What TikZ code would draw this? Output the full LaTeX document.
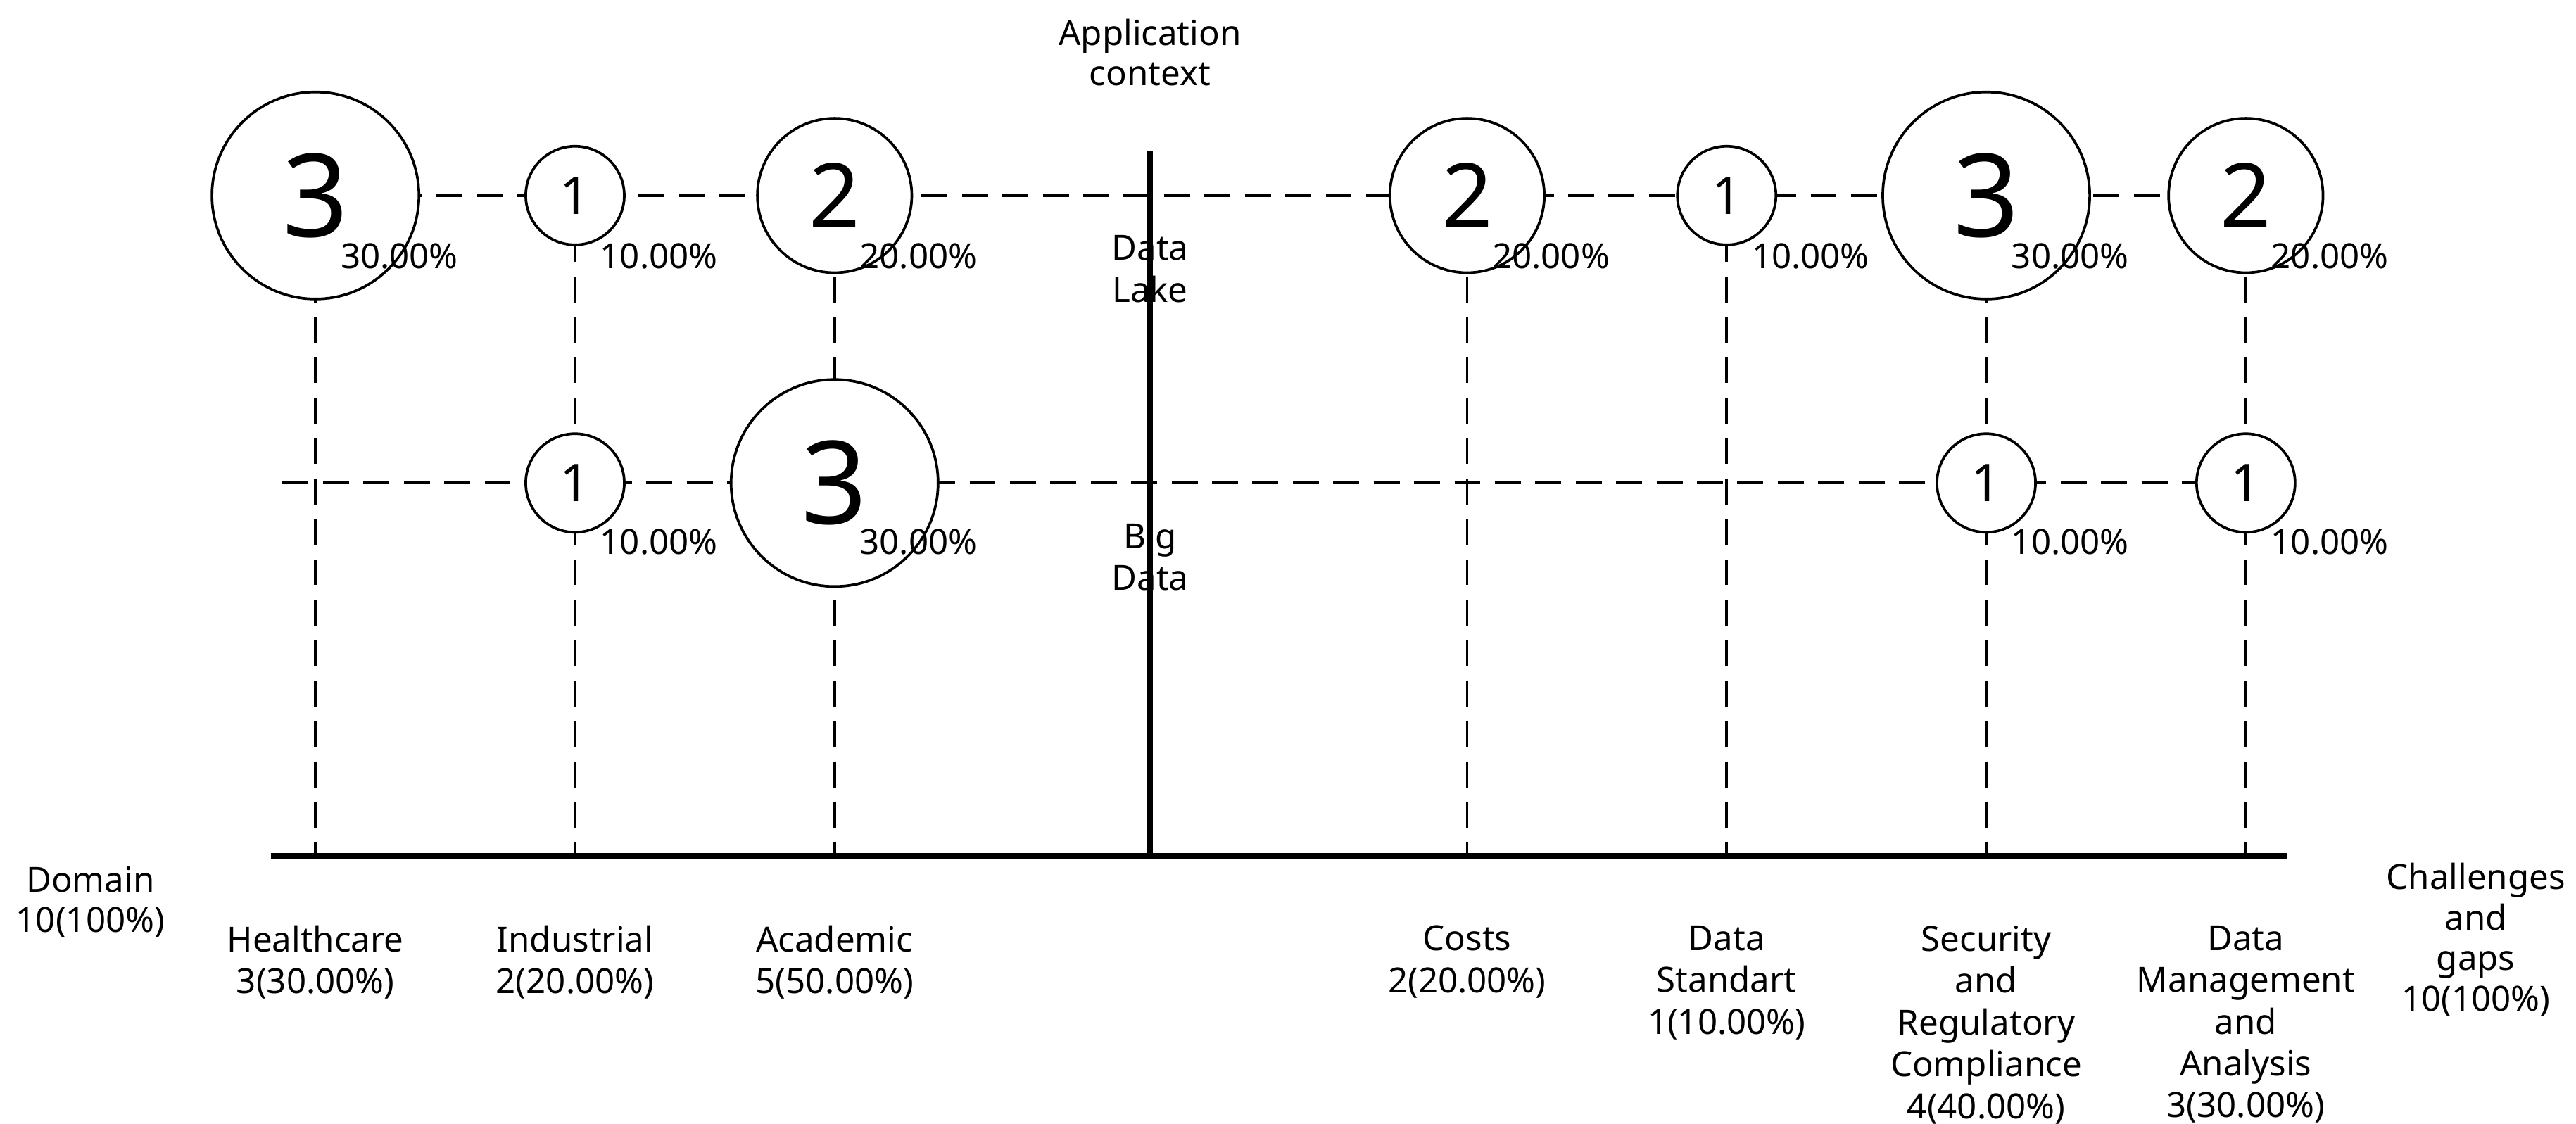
\documentclass[tikz,border=0pt]{standalone}
\usepackage{fontspec}
\setmainfont{Noto Sans}
\begin{document}
\begin{tikzpicture}[x=0.02cm,y=-0.02cm,
  dsh/.style={dashed,dash pattern=on 9pt off 5pt,line width=0.9pt},
  axis/.style={line width=2.2pt},
  bub/.style={circle,draw,fill=white,line width=0.9pt,inner sep=0pt,font=\bfseries},
  pct/.style={anchor=west,font=\bfseries\fontsize{12}{14}\selectfont,inner sep=0pt},
  lab/.style={align=center,anchor=north,font=\fontsize{12}{14.5}\selectfont,inner sep=0pt},
  blab/.style={align=center,font=\bfseries\fontsize{12}{14}\selectfont,inner sep=0pt}]
\useasboundingbox (0,0) rectangle (1568,684);
% coordinates
\coordinate (hT) at (192,119); \coordinate (hB) at (192,521);
\coordinate (iT) at (350,119); \coordinate (iB) at (350,521);
\coordinate (aT) at (508,119); \coordinate (aB) at (508,521);
\coordinate (cT) at (893,119); \coordinate (cB) at (893,521);
\coordinate (dT) at (1051,119); \coordinate (dB) at (1051,521);
\coordinate (sT) at (1209,119); \coordinate (sB) at (1209,521);
\coordinate (mT) at (1367,119); \coordinate (mB) at (1367,521);
\coordinate (bl) at (172,294); \coordinate (br) at (1367,294);
% dashed grid
\draw[dsh] (hT) -- (mT);
\draw[dsh] (bl) -- (br);
\foreach \t/\b in {hT/hB,iT/iB,aT/aB,cT/cB,dT/dB,sT/sB,mT/mB} \draw[dsh] (\t) -- (\b);
% axes
\coordinate (xl) at (165,521); \coordinate (xr) at (1392,521);
\coordinate (vt) at (700,92); \coordinate (vb) at (700,521);
\draw[axis] (xl) -- (xr);
% bubbles top
\node[bub,minimum size=126*0.02cm,font=\bfseries\fontsize{40}{40}\selectfont] (b1) at (hT) {3};
\node[bub,minimum size=60*0.02cm,font=\bfseries\fontsize{18}{18}\selectfont] (b2) at (iT) {1};
\node[bub,minimum size=94*0.02cm,font=\bfseries\fontsize{31}{31}\selectfont] (b3) at (aT) {2};
\node[bub,minimum size=94*0.02cm,font=\bfseries\fontsize{31}{31}\selectfont] (b4) at (cT) {2};
\node[bub,minimum size=60*0.02cm,font=\bfseries\fontsize{18}{18}\selectfont] (b5) at (dT) {1};
\node[bub,minimum size=126*0.02cm,font=\bfseries\fontsize{40}{40}\selectfont] (b6) at (sT) {3};
\node[bub,minimum size=94*0.02cm,font=\bfseries\fontsize{31}{31}\selectfont] (b7) at (mT) {2};
% bubbles bottom
\node[bub,minimum size=60*0.02cm,font=\bfseries\fontsize{18}{18}\selectfont] (c2) at (350,294) {1};
\node[bub,minimum size=126*0.02cm,font=\bfseries\fontsize{40}{40}\selectfont] (c3) at (508,294) {3};
\node[bub,minimum size=60*0.02cm,font=\bfseries\fontsize{18}{18}\selectfont] (c6) at (1209,294) {1};
\node[bub,minimum size=60*0.02cm,font=\bfseries\fontsize{18}{18}\selectfont] (c7) at (1367,294) {1};
\draw[axis] (vt) -- (vb);
% percentages
\node[pct] (p1) at (207,156) {30.00\%};
\node[pct] (p2) at (365,156) {10.00\%};
\node[pct] (p3) at (523,156) {20.00\%};
\node[pct] (p4) at (908,156) {20.00\%};
\node[pct] (p5) at (1066,156) {10.00\%};
\node[pct] (p6) at (1224,156) {30.00\%};
\node[pct] (p7) at (1382,156) {20.00\%};
\node[pct] (q2) at (365,330) {10.00\%};
\node[pct] (q3) at (523,330) {30.00\%};
\node[pct] (q6) at (1224,330) {10.00\%};
\node[pct] (q7) at (1382,330) {10.00\%};
% context labels
\node[lab] (dl) at (700,143) {Data\\Lake};
\node[lab] (bd) at (700,318) {Big\\Data};
\node[blab] (ac) at (700,32) {Application\\context};
\node[blab] (dom) at (55,549) {Domain\\10(100\%)};
\node[blab] (cg) at (1507,572) {Challenges\\and\\gaps\\10(100\%)};
% bottom labels
\node[lab] at (192,563) {Healthcare\\3(30.00\%)};
\node[lab] at (350,563) {Industrial\\2(20.00\%)};
\node[lab] at (508,563) {Academic\\5(50.00\%)};
\node[lab] at (893,563) {Costs\\2(20.00\%)};
\node[lab] at (1051,563) {Data\\Standart\\1(10.00\%)};
\node[lab] at (1209,563) {Security\\and\\Regulatory\\Compliance\\4(40.00\%)};
\node[lab] at (1367,563) {Data\\Management\\and\\Analysis\\3(30.00\%)};
\end{tikzpicture}
\end{document}
